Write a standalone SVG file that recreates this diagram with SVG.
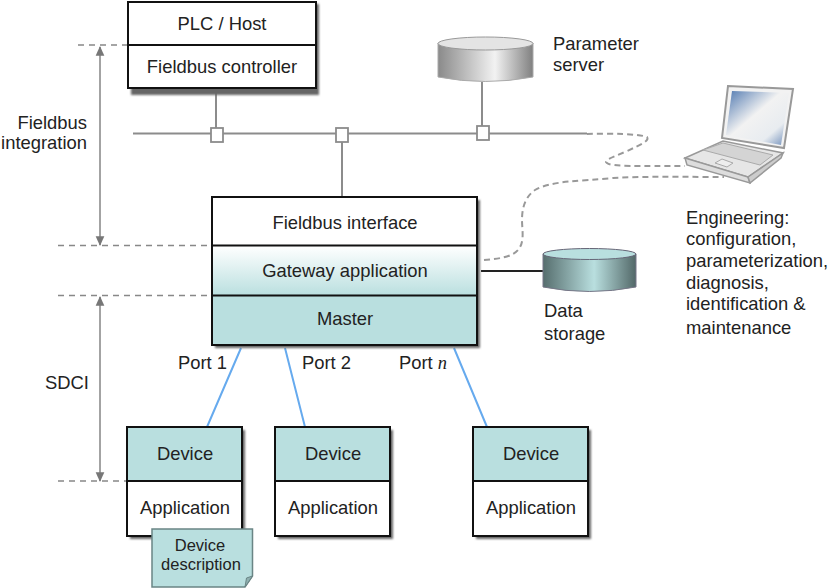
<svg xmlns="http://www.w3.org/2000/svg" width="828" height="588" viewBox="0 0 828 588">
<style>
text{font-family:"Liberation Sans",Arial,sans-serif;font-size:18.4px;fill:#222}
.m{text-anchor:middle}
.e{text-anchor:end}
.small{font-size:16.5px}
.box{stroke:#111;stroke-width:2;fill:none}
.sh{fill:#666;filter:url(#soft)}
.bus{stroke:#8c8c8c;stroke-width:2;fill:none}
.dash{stroke:#999;stroke-width:2;stroke-dasharray:6 4;fill:none}
.guide{stroke:#888;stroke-width:1.300;stroke-dasharray:6 5;fill:none}
.blue{stroke:#66aaee;stroke-width:2;fill:none}
.dim{stroke:#8c8c8c;stroke-width:1.600;fill:none}
.sq{fill:#fff;stroke:#8c8c8c;stroke-width:1.800}
.teal{fill:#b9dfdf}
</style>
<defs>
<filter id="soft" x="-5%" y="-5%" width="110%" height="110%"><feGaussianBlur stdDeviation="0.8"/></filter>
<linearGradient id="gw" x1="0" y1="0" x2="0" y2="1"><stop offset="0" stop-color="#fff"/><stop offset="1" stop-color="#b9dfdf"/></linearGradient>
<linearGradient id="cylG" x1="0" y1="0" x2="1" y2="0"><stop offset="0" stop-color="#8a8a8a"/><stop offset=".6" stop-color="#f2f2f2"/><stop offset="1" stop-color="#808080"/></linearGradient>
<linearGradient id="cylT" x1="0" y1="0" x2="1" y2="0"><stop offset="0" stop-color="#566e6e"/><stop offset=".55" stop-color="#b9dfdf"/><stop offset="1" stop-color="#526868"/></linearGradient>
<linearGradient id="scr" x1="0" y1="0" x2="1" y2="1"><stop offset="0" stop-color="#4f78b0"/><stop offset=".45" stop-color="#f2f2f2"/><stop offset=".75" stop-color="#e8ecf0"/><stop offset="1" stop-color="#6485b5"/></linearGradient>
<marker id="ah" viewBox="0 0 10 10" refX="9" refY="5" markerWidth="6" markerHeight="6" orient="auto-start-reverse"><path d="M0 0.500L10 5L0 9.500z" fill="#777"/></marker>
</defs>
<g id="connectors">
<path class="bus" d="M133 133.500H587"/>
<path class="bus" d="M216 92V128M342 142V197M482 82V126"/>
<path class="dash" d="M587 134C610 133 640 134 647 137C650 141 640 145 625 152C610 158 603 161 607 163C612 167 640 166 685 166"/>
<path class="dash" d="M484 260C498 259 512 257 518 250C525 242 522 230 522 220C522 208 525 197 535 190C550 181 580 181 613 178C650 176 690 177 724 177"/>
<path d="M481 271H543" stroke="#222" stroke-width="1.800" fill="none"/>
<path class="blue" d="M241 348L207 427M285 348L305 427M454 348L487 427"/>
<path class="guide" d="M78 45H128M58 245.500H212M58 295.500H212M58 481H127"/>
<path class="dim" d="M100 47V245" marker-start="url(#ah)" marker-end="url(#ah)"/>
<path class="dim" d="M100 297V481" marker-start="url(#ah)" marker-end="url(#ah)"/>
</g>
<g id="sq1"><rect class="sq" x="211" y="128" width="12" height="14"/></g>
<g id="sq2"><rect class="sq" x="336" y="128" width="12" height="14"/></g>
<g id="sq3"><rect class="sq" x="477" y="126" width="12" height="14"/></g>
<g id="plc">
<rect class="sh" x="131" y="4" width="188" height="91"/>
<rect x="128" y="2" width="188" height="86" fill="#fff"/>
<rect class="box" x="128" y="2" width="188" height="86"/>
<path class="box" d="M128 45H316"/>
<text class="m" x="222" y="30">PLC / Host</text>
<text class="m" x="222" y="73">Fieldbus controller</text>
</g>
<g id="param-server">
<path d="M438 43V77Q485 86 533 77V43z" fill="url(#cylG)" stroke="#aaa"/>
<ellipse cx="485.500" cy="43.500" rx="47.500" ry="6.500" fill="#e4e4e4" stroke="#999"/>
<text x="553" y="50">Parameter</text>
<text x="553" y="71">server</text>
</g>
<g id="laptop">
<path d="M728 86L793 89L784 148L722 138z" fill="#f2f2f2" stroke="#999" stroke-width="2"/>
<path d="M732 91L789 93L781 145L726 135z" fill="url(#scr)"/>
<path d="M685 158L723 141L783 153L748 177z" fill="#e6e6e6" stroke="#999" stroke-width="1.500"/>
<path d="M685 158L687 165L750 183L748 177z" fill="#ddd" stroke="#999" stroke-width="1.500"/>
<path d="M748 177L783 153L781 158L750 183z" fill="#ccc" stroke="#999" stroke-width="1.500"/>
<path d="M703 150L723 143L773 155L760 165z" fill="#d4d4d4" stroke="#aaa"/>
<path d="M715 163L722 159L733 163L727 167z" fill="#eee" stroke="#aaa"/>
</g>
<g id="gateway">
<rect class="sh" x="215" y="200" width="265" height="148"/>
<rect x="212" y="197" width="265" height="49" fill="#fff"/>
<rect x="212" y="246" width="265" height="50" fill="url(#gw)"/>
<rect class="teal" x="212" y="296" width="265" height="49"/>
<rect class="box" x="212" y="197" width="265" height="148"/>
<path class="box" d="M212 245.500H477M212 295.500H477"/>
<text class="m" x="345" y="229">Fieldbus interface</text>
<text class="m" x="345" y="277">Gateway application</text>
<text class="m" x="345" y="325">Master</text>
</g>
<g id="data-storage">
<path d="M543 254V287Q589 296 636 287V254z" fill="url(#cylT)" stroke="#778"/>
<ellipse cx="589.500" cy="254" rx="46.500" ry="5.500" fill="#b9dfdf" stroke="#667"/>
<text x="544" y="317">Data</text>
<text x="544" y="340">storage</text>
</g>
<g id="device1">
<rect class="sh" x="130" y="430" width="115" height="109"/>
<rect class="teal" x="127" y="427" width="115" height="54"/>
<rect x="127" y="481" width="115" height="55" fill="#fff"/>
<rect class="box" x="127" y="427" width="115" height="109"/>
<path class="box" d="M127 481H242"/>
<text class="m" x="185" y="460">Device</text>
<text class="m" x="185" y="514">Application</text>
</g>
<g id="device2">
<rect class="sh" x="278" y="430" width="115" height="109"/>
<rect class="teal" x="275" y="427" width="115" height="54"/>
<rect x="275" y="481" width="115" height="55" fill="#fff"/>
<rect class="box" x="275" y="427" width="115" height="109"/>
<path class="box" d="M275 481H390"/>
<text class="m" x="333" y="460">Device</text>
<text class="m" x="333" y="514">Application</text>
</g>
<g id="device3">
<rect class="sh" x="476" y="430" width="115" height="109"/>
<rect class="teal" x="473" y="427" width="115" height="54"/>
<rect x="473" y="481" width="115" height="55" fill="#fff"/>
<rect class="box" x="473" y="427" width="115" height="109"/>
<path class="box" d="M473 481H588"/>
<text class="m" x="531" y="460">Device</text>
<text class="m" x="531" y="514">Application</text>
</g>
<g id="device-description">
<path d="M152 529H252.500V576L245 587H152z" class="teal" stroke="#6a8585" stroke-width="1.500"/>
<path d="M245 587L246.500 578L252.500 576z" fill="#8fb0b0" stroke="#6a8585"/>
<text class="m small" x="200" y="551">Device</text>
<text class="m small" x="201" y="570">description</text>
</g>
<g id="labels">
<text class="e" x="87" y="129">Fieldbus</text>
<text class="e" x="87" y="149">integration</text>
<text x="45" y="389">SDCI</text>
<text x="178" y="369">Port 1</text>
<text x="302" y="369">Port 2</text>
<text x="399" y="369">Port <tspan style="font-family:'Liberation Serif',serif;font-style:italic">n</tspan></text>
<text x="686" y="224">Engineering:</text>
<text x="686" y="245">configuration,</text>
<text x="686" y="267">parameterization,</text>
<text x="686" y="289">diagnosis,</text>
<text x="686" y="310">identification &amp;</text>
<text x="686" y="334">maintenance</text>
</g>
</svg>
